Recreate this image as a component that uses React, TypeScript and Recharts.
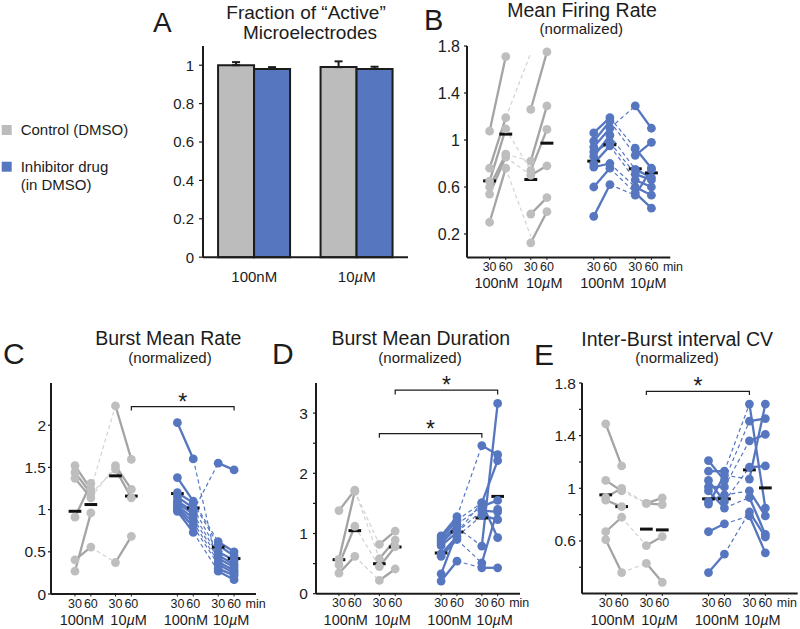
import React from 'react';
import { BarChart, Bar, XAxis, YAxis, ErrorBar, ComposedChart, Line, ReferenceDot } from 'recharts';

const FONT = '"Liberation Sans", Arial, Helvetica, sans-serif';
const INK = '#1c1c1c';
const GRAY_BAR = '#bcbcbc';
const BLUE = '#5677c0';
const GRAY_LINE = '#a4a4a4';
const GRAY_DOT = '#bebebe';
const GRAY_DASH = '#d2d2d2';

// ---------- Panel A data ----------
const aCategories = ['100nM', '10µM'];
const aControl = [1.0, 0.99];
const aDrug = [0.98, 0.98];
const aControlErr = [0.016, 0.03];
const aDrugErr = [0.01, 0.012];
const aTicks = [0, 0.2, 0.4, 0.6, 0.8, 1];

// ---------- shared x layout (30/60 min for each condition) ----------
const POS = [0, 1, 2.55, 3.55, 6.45, 7.45, 9.02, 10.02];
const GROUP_CENTERS = [0.43, 3.38, 6.98, 9.83];
const GROUP_LABELS = ['100nM', '10µM', '100nM', '10µM'];
const TIME_LABELS = ['30', '60'];

// ---------- Panel B: Mean Firing Rate ----------
const bCtrl100_30 = [1.075, 0.76, 0.65, 0.6, 0.54, 0.3];
const bCtrl100_60 = [1.71, 1.19, 1.095, 0.88, 0.855, 0.76];
const bCtrl10_30 = [1.26, 0.82, 0.74, 0.7, 0.37, 0.125];
const bCtrl10_60 = [1.75, 1.29, 1.09, 0.78, 0.51, 0.39];
const bCtrlLinkFrom = [1.19, 1.095, 0.88, 0.855, 0.76];
const bCtrlLinkTo = [1.74, 0.74, 0.82, 0.7, 0.18];
const bCtrlMeans = [0.652, 1.05, 0.664, 0.973];
const bDrug100_30 = [1.06, 0.99, 0.94, 0.9, 0.86, 0.8, 0.77, 0.6, 0.35];
const bDrug100_60 = [1.19, 1.16, 1.1, 0.98, 1.04, 0.95, 0.8, 0.76, 0.62];
const bDrug10_30 = [1.29, 0.87, 0.93, 0.75, 0.71, 0.66, 0.6, 0.55, 0.53];
const bDrug10_60 = [1.1, 0.98, 0.76, 0.68, 0.66, 0.6, 0.53, 0.42, 0.75];
const bDrugLinkFrom = [1.1, 1.19, 1.16, 1.04, 0.98, 0.95, 0.8, 0.76, 0.62];
const bDrugLinkTo = [1.29, 0.93, 0.87, 0.75, 0.71, 0.66, 0.6, 0.55, 0.53];
const bDrugMeans = [0.82, 0.96, 0.755, 0.72];

// ---------- Panel C: Burst Mean Rate ----------
const cCtrl100_30 = [1.52, 1.44, 1.37, 0.91, 0.405, 0.27];
const cCtrl100_60 = [1.24, 1.19, 1.14, 1.31, 0.556, 0.96];
const cCtrl10_30 = [2.23, 1.52, 1.48, 0.373];
const cCtrl10_60 = [1.595, 1.24, 1.14, 0.683];
const cCtrlLinkFrom = [1.24, 1.14, 0.556, 1.19];
const cCtrlLinkTo = [2.23, 1.52, 0.373, 1.48];
const cCtrlMeans = [0.98, 1.06, 1.4, 1.16];
const cDrug100_30 = [2.03, 1.38, 1.2, 1.15, 1.1, 1.07, 1.04, 1.02, 1.0, 0.98];
const cDrug100_60 = [1.6, 1.1, 1.08, 1.02, 0.98, 0.95, 0.9, 0.85, 0.8, 0.73];
const cDrug10_30 = [1.55, 0.62, 0.58, 0.5, 0.46, 0.42, 0.38, 0.35, 0.3, 0.27];
const cDrug10_60 = [1.47, 0.5, 0.45, 0.4, 0.35, 0.32, 0.28, 0.25, 0.22, 0.17];
const cDrugLinkFrom = [1.6, 1.1, 1.08, 1.02, 0.98, 0.95, 0.9, 0.85, 0.8, 0.73];
const cDrugLinkTo = [0.3, 0.62, 0.58, 0.5, 1.55, 0.46, 0.42, 0.38, 0.35, 0.27];
const cDrugMeans = [1.19, 1.02, 0.556, 0.42];

// ---------- Panel D: Burst Mean Duration ----------
const dCtrl100_30 = [1.38, 0.57, 0.48, 0.34];
const dCtrl100_60 = [1.72, 1.7, 1.12, 0.62];
const dCtrl10_30 = [0.82, 0.58, 0.45, 0.22];
const dCtrl10_60 = [1.04, 0.89, 0.78, 0.41];
const dCtrlLinkFrom = [1.72, 1.12, 0.62, 1.7];
const dCtrlLinkTo = [0.58, 0.45, 0.22, 0.82];
const dCtrlMeans = [0.565, 1.047, 0.498, 0.776];
const dDrug100_30 = [0.96, 0.92, 0.88, 0.84, 0.8, 0.66, 0.62, 0.33, 0.21];
const dDrug100_60 = [1.28, 1.22, 1.15, 1.1, 1.02, 0.95, 0.9, 1.02, 0.54];
const dDrug10_30 = [2.46, 1.51, 1.51, 1.45, 1.38, 1.3, 0.79, 0.51, 0.43];
const dDrug10_60 = [2.31, 2.21, 0.93, 1.55, 1.36, 1.23, 3.16, 1.4, 0.43];
const dDrugLinkFrom = [1.28, 1.22, 1.15, 1.1, 1.02, 0.95, 0.9, 1.02, 0.54];
const dDrugLinkTo = [2.46, 1.51, 1.45, 0.79, 1.38, 1.3, 0.51, 1.51, 0.43];
const dDrugMeans = [0.676, 1.025, 1.258, 1.616];

// ---------- Panel E: Inter-Burst interval CV ----------
const eCtrl100_30 = [1.49, 1.06, 0.93, 0.91, 0.67, 0.61];
const eCtrl100_60 = [1.17, 0.98, 1.0, 0.86, 0.78, 0.36];
const eCtrl10_30 = [0.886, 0.886, 0.565, 0.43];
const eCtrl10_60 = [0.927, 0.876, 0.633, 0.286];
const eCtrlLinkFrom = [1.0, 0.98, 0.78, 0.36];
const eCtrlLinkTo = [0.886, 0.886, 0.565, 0.43];
const eCtrlMeans = [0.95, 0.861, 0.69, 0.684];
const eDrug100_30 = [1.21, 1.13, 1.06, 1.01, 0.98, 0.9, 0.88, 0.67, 0.36];
const eDrug100_60 = [1.06, 1.13, 0.9, 1.01, 0.85, 0.95, 1.1, 0.73, 0.5];
const eDrug10_30 = [1.64, 1.51, 1.36, 1.16, 1.07, 0.93, 0.82, 0.79, 0.98];
const eDrug10_60 = [0.85, 1.53, 1.41, 1.17, 1.64, 0.65, 0.63, 0.51, 0.79];
const eDrugLinkFrom = [1.13, 1.06, 1.01, 0.9, 1.1, 0.95, 0.85, 0.73, 0.5];
const eDrugLinkTo = [1.64, 1.51, 1.36, 1.16, 1.07, 0.98, 0.93, 0.79, 0.82];
const eDrugMeans = [0.92, 0.92, 1.14, 1.003];

// significance brackets: [fromPosIndex, toPosIndex, height, drop]
const cBrackets = [[3, 7, 2.22, 0.045]];
const dBrackets = [[3, 7, 3.38, 0.07], [2, 6, 2.66, 0.07]];
const eBrackets = [[2, 6, 1.736, 0.028]];

const withMu = (s: string) => {
  const parts = s.split('µ');
  if (parts.length === 1) return s;
  return (
    <>
      {parts[0]}
      <tspan fontStyle="italic">µ</tspan>
      {parts[1]}
    </>
  );
};

const ScatterXTick = (props: any) => {
  const { x, y, payload } = props;
  const v = payload.value;
  const gi = GROUP_CENTERS.indexOf(v);
  if (gi >= 0) {
    return (
      <text x={x} y={y + 31} textAnchor="middle" fontSize={14.5} fontFamily={FONT} fill={INK}>
        {withMu(GROUP_LABELS[gi])}
      </text>
    );
  }
  const pi = POS.indexOf(v);
  return (
    <g>
      <line x1={x} x2={x} y1={y} y2={y + 2.5} stroke={INK} strokeWidth={1} />
      <text x={x} y={y + 13.5} textAnchor="middle" fontSize={12.5} fontFamily={FONT} fill={INK}>
        {TIME_LABELS[pi % 2]}
      </text>
      {pi === POS.length - 1 && (
        <text x={x + 11.5} y={y + 13.5} fontSize={12.5} fontFamily={FONT} fill={INK}>
          min
        </text>
      )}
    </g>
  );
};

const makeYTick = (labels: number[], fontSize: number) => (props: any) => {
  const { x, y, payload } = props;
  const show = labels.some((l) => Math.abs(l - payload.value) < 1e-6);
  if (!show) return <g />;
  return (
    <text x={x} y={y} dy="0.355em" textAnchor="end" fontSize={fontSize} fontFamily={FONT} fill={INK}>
      {String(payload.value)}
    </text>
  );
};

type Grp = {
  a30: number[]; a60: number[]; b30: number[]; b60: number[];
  linkFrom: number[]; linkTo: number[]; means: number[];
};

const pairLines = (v30: number[], v60: number[], p30: number, p60: number, stroke: string, fill: string, key: string) =>
  v30.map((v, i) => (
    <Line
      key={`${key}-${i}`}
      data={[{ x: POS[p30], y: v }, { x: POS[p60], y: v60[i] }]}
      dataKey="y"
      type="linear"
      stroke={stroke}
      strokeWidth={2.3}
      dot={{ r: 4.4, fill, stroke: 'none', strokeWidth: 0 }}
      activeDot={false}
      isAnimationActive={false}
    />
  ));

const linkLines = (from: number[], to: number[], p0: number, p1: number, stroke: string, key: string) =>
  from.map((v, i) => (
    <Line
      key={`${key}-${i}`}
      data={[{ x: POS[p0], y: v }, { x: POS[p1], y: to[i] }]}
      dataKey="y"
      type="linear"
      stroke={stroke}
      strokeWidth={1.2}
      strokeDasharray="4 3"
      dot={false}
      activeDot={false}
      isAnimationActive={false}
    />
  ));

const meanLines = (means: number[], offset: number, key: string) =>
  means.map((m, i) => (
    <Line
      key={`${key}-${i}`}
      data={[{ x: POS[offset + i] - 0.4, y: m }, { x: POS[offset + i] + 0.4, y: m }]}
      dataKey="y"
      type="linear"
      stroke="#111"
      strokeWidth={3}
      dot={false}
      activeDot={false}
      isAnimationActive={false}
    />
  ));

type Cfg = {
  left: number; right: number; top: number; bottom: number;
  xDomain: [number, number]; yDomain: [number, number];
  yTicks: number[]; yLabels: number[]; yFont: number; tickMargin: number;
  mt: number; mr: number; yW: number; xh: number;
};

const ScatterPanel = ({ cfg, ctrl, drug, brackets }: { cfg: Cfg; ctrl: Grp; drug: Grp; brackets: number[][] }) => {
  const width = cfg.yW + (cfg.right - cfg.left) + cfg.mr;
  const height = cfg.mt + (cfg.bottom - cfg.top) + cfg.xh;
  const xTicks = [...POS, ...GROUP_CENTERS];
  return (
    <div style={{ position: 'absolute', left: cfg.left - cfg.yW, top: cfg.top - cfg.mt }}>
      <ComposedChart width={width} height={height} margin={{ top: cfg.mt, right: cfg.mr, left: 0, bottom: 0 }}>
        <XAxis
          type="number"
          dataKey="x"
          domain={cfg.xDomain}
          ticks={xTicks}
          interval={0}
          height={cfg.xh}
          tickSize={0}
          tickMargin={0}
          tickLine={false}
          axisLine={{ stroke: INK, strokeWidth: 2 }}
          tick={ScatterXTick}
        />
        <YAxis
          type="number"
          dataKey="y"
          domain={cfg.yDomain}
          ticks={cfg.yTicks}
          interval={0}
          width={cfg.yW}
          tickSize={3}
          tickMargin={cfg.tickMargin}
          tickLine={{ stroke: INK, strokeWidth: 1.2 }}
          axisLine={{ stroke: INK, strokeWidth: 2 }}
          tick={makeYTick(cfg.yLabels, cfg.yFont)}
        />
        {linkLines(ctrl.linkFrom, ctrl.linkTo, 1, 2, GRAY_DASH, 'cl')}
        {linkLines(drug.linkFrom, drug.linkTo, 5, 6, BLUE, 'dl')}
        {pairLines(ctrl.a30, ctrl.a60, 0, 1, GRAY_LINE, GRAY_DOT, 'ca')}
        {pairLines(ctrl.b30, ctrl.b60, 2, 3, GRAY_LINE, GRAY_DOT, 'cb')}
        {pairLines(drug.a30, drug.a60, 4, 5, BLUE, BLUE, 'da')}
        {pairLines(drug.b30, drug.b60, 6, 7, BLUE, BLUE, 'db')}
        {meanLines(ctrl.means, 0, 'cm')}
        {meanLines(drug.means, 4, 'dm')}
        {brackets.map(([a, b, h, d], i) => (
          <Line
            key={`br-${i}`}
            data={[
              { x: POS[a], y: h - d },
              { x: POS[a], y: h },
              { x: POS[b], y: h },
              { x: POS[b], y: h - d },
            ]}
            dataKey="y"
            type="linear"
            stroke={INK}
            strokeWidth={1.2}
            dot={false}
            activeDot={false}
            isAnimationActive={false}
          />
        ))}
        {brackets.map(([a, b, h], i) => (
          <ReferenceDot
            key={`st-${i}`}
            x={(POS[a] + POS[b]) / 2}
            y={h}
            r={0}
            shape={(p: any) => (
              <text x={p.cx} y={p.cy + 3} textAnchor="middle" fontSize={23} fontFamily={FONT} fill={INK}>
                *
              </text>
            )}
          />
        ))}
      </ComposedChart>
    </div>
  );
};

const ABarTick = (props: any) => {
  const { x, y, payload } = props;
  return (
    <text x={x} y={y + 25} textAnchor="middle" fontSize={15} fontFamily={FONT} fill={INK}>
      {withMu(payload.value)}
    </text>
  );
};

const PanelA = () => {
  const data = aCategories.map((name, i) => ({
    name,
    control: aControl[i],
    drug: aDrug[i],
    controlErr: [0, aControlErr[i]],
    drugErr: [0, aDrugErr[i]],
  }));
  const left = 203, right = 408, top = 45.8, bottom = 257;
  const yW = 60, mt = 10, mr = 5, xh = 40;
  return (
    <div style={{ position: 'absolute', left: left - yW, top: top - mt }}>
      <BarChart
        width={yW + (right - left) + mr}
        height={mt + (bottom - top) + xh}
        data={data}
        margin={{ top: mt, right: mr, left: 0, bottom: 0 }}
        barCategoryGap="14.7%"
        barGap={0}
      >
        <XAxis
          dataKey="name"
          height={xh}
          tickSize={0}
          tickMargin={0}
          tickLine={false}
          axisLine={{ stroke: INK, strokeWidth: 2 }}
          tick={ABarTick}
          interval={0}
        />
        <YAxis
          type="number"
          domain={[0, 1.1]}
          ticks={aTicks}
          interval={0}
          width={yW}
          tickSize={4}
          tickMargin={5}
          tickLine={{ stroke: INK, strokeWidth: 1.2 }}
          axisLine={{ stroke: INK, strokeWidth: 2 }}
          tick={makeYTick(aTicks, 15)}
        />
        <Bar dataKey="control" fill={GRAY_BAR} stroke={INK} strokeWidth={2} isAnimationActive={false}>
          <ErrorBar dataKey="controlErr" width={4} stroke={INK} strokeWidth={2} direction="y" />
        </Bar>
        <Bar dataKey="drug" fill={BLUE} stroke={INK} strokeWidth={2} isAnimationActive={false}>
          <ErrorBar dataKey="drugErr" width={4} stroke={INK} strokeWidth={2} direction="y" />
        </Bar>
      </BarChart>
    </div>
  );
};

const cfgB: Cfg = {
  left: 466.7, right: 670, top: 45.5, bottom: 257, xDomain: [-1.4, 11.19], yDomain: [0, 1.8],
  yTicks: [0.2, 0.6, 1, 1.4, 1.8], yLabels: [0.2, 0.6, 1, 1.4, 1.8], yFont: 16, tickMargin: 4,
  mt: 10, mr: 15, yW: 60, xh: 40,
};
const cfgC: Cfg = {
  left: 51, right: 256, top: 383, bottom: 594, xDomain: [-1.51, 11.4], yDomain: [0, 2.5],
  yTicks: [0, 0.5, 1, 1.5, 2], yLabels: [0, 0.5, 1, 1.5, 2], yFont: 15.5, tickMargin: 2,
  mt: 20, mr: 15, yW: 45, xh: 35,
};
const cfgD: Cfg = {
  left: 316, right: 520, top: 383.3, bottom: 594, xDomain: [-1.45, 11.43], yDomain: [0, 3.5],
  yTicks: [0, 0.5, 1, 1.5, 2, 2.5, 3], yLabels: [0, 1, 2, 3], yFont: 15.5, tickMargin: 5,
  mt: 30, mr: 15, yW: 45, xh: 35,
};
const cfgE: Cfg = {
  left: 582.3, right: 798, top: 382.7, bottom: 593.3, xDomain: [-1.49, 12.05], yDomain: [0.2, 1.8],
  yTicks: [0.4, 0.6, 0.8, 1, 1.2, 1.4, 1.6, 1.8], yLabels: [0.6, 1, 1.4, 1.8], yFont: 15.5, tickMargin: 3,
  mt: 20, mr: 2, yW: 45, xh: 35,
};

const T = (p: any) => <text fontFamily={FONT} fill={INK} {...p} />;

export default function App() {
  return (
    <div style={{ position: 'absolute', left: 0, top: 0, width: 800, height: 629, background: '#fff', overflow: 'hidden' }}>
      <PanelA />
      <ScatterPanel
        cfg={cfgB}
        ctrl={{ a30: bCtrl100_30, a60: bCtrl100_60, b30: bCtrl10_30, b60: bCtrl10_60, linkFrom: bCtrlLinkFrom, linkTo: bCtrlLinkTo, means: bCtrlMeans }}
        drug={{ a30: bDrug100_30, a60: bDrug100_60, b30: bDrug10_30, b60: bDrug10_60, linkFrom: bDrugLinkFrom, linkTo: bDrugLinkTo, means: bDrugMeans }}
        brackets={[]}
      />
      <ScatterPanel
        cfg={cfgC}
        ctrl={{ a30: cCtrl100_30, a60: cCtrl100_60, b30: cCtrl10_30, b60: cCtrl10_60, linkFrom: cCtrlLinkFrom, linkTo: cCtrlLinkTo, means: cCtrlMeans }}
        drug={{ a30: cDrug100_30, a60: cDrug100_60, b30: cDrug10_30, b60: cDrug10_60, linkFrom: cDrugLinkFrom, linkTo: cDrugLinkTo, means: cDrugMeans }}
        brackets={cBrackets}
      />
      <ScatterPanel
        cfg={cfgD}
        ctrl={{ a30: dCtrl100_30, a60: dCtrl100_60, b30: dCtrl10_30, b60: dCtrl10_60, linkFrom: dCtrlLinkFrom, linkTo: dCtrlLinkTo, means: dCtrlMeans }}
        drug={{ a30: dDrug100_30, a60: dDrug100_60, b30: dDrug10_30, b60: dDrug10_60, linkFrom: dDrugLinkFrom, linkTo: dDrugLinkTo, means: dDrugMeans }}
        brackets={dBrackets}
      />
      <ScatterPanel
        cfg={cfgE}
        ctrl={{ a30: eCtrl100_30, a60: eCtrl100_60, b30: eCtrl10_30, b60: eCtrl10_60, linkFrom: eCtrlLinkFrom, linkTo: eCtrlLinkTo, means: eCtrlMeans }}
        drug={{ a30: eDrug100_30, a60: eDrug100_60, b30: eDrug10_30, b60: eDrug10_60, linkFrom: eDrugLinkFrom, linkTo: eDrugLinkTo, means: eDrugMeans }}
        brackets={eBrackets}
      />
      <svg width={800} height={629} style={{ position: 'absolute', left: 0, top: 0, pointerEvents: 'none' }}>
        {/* panel letters */}
        <T x={153} y={31.5} fontSize={28}>A</T>
        <T x={424} y={30} fontSize={29}>B</T>
        <T x={3} y={363.5} fontSize={30}>C</T>
        <T x={272} y={363.5} fontSize={30}>D</T>
        <T x={534} y={365} fontSize={30}>E</T>
        {/* titles */}
        <T x={306} y={18.5} fontSize={19} textAnchor="middle">Fraction of “Active”</T>
        <T x={310} y={38.5} fontSize={19} textAnchor="middle">Microelectrodes</T>
        <T x={582} y={16.5} fontSize={19.5} textAnchor="middle">Mean Firing Rate</T>
        <T x={581.3} y={33.5} fontSize={15} textAnchor="middle">(normalized)</T>
        <T x={168.3} y={345.2} fontSize={19.5} textAnchor="middle">Burst Mean Rate</T>
        <T x={170} y={362.8} fontSize={15} textAnchor="middle">(normalized)</T>
        <T x={420.8} y={345.2} fontSize={19.5} textAnchor="middle">Burst Mean Duration</T>
        <T x={420} y={362.8} fontSize={15} textAnchor="middle">(normalized)</T>
        <T x={677.2} y={345.5} fontSize={19.5} textAnchor="middle">Inter-Burst interval CV</T>
        <T x={677} y={363} fontSize={15} textAnchor="middle">(normalized)</T>
        {/* legend */}
        <rect x={1.7} y={125} width={10} height={10} fill={GRAY_BAR} />
        <T x={20.7} y={134.5} fontSize={15}>Control (DMSO)</T>
        <rect x={1.7} y={161.7} width={10} height={10} fill={BLUE} />
        <T x={20.7} y={171.5} fontSize={15}>Inhibitor drug</T>
        <T x={20.7} y={189.5} fontSize={15}>(in DMSO)</T>
      </svg>
    </div>
  );
}
